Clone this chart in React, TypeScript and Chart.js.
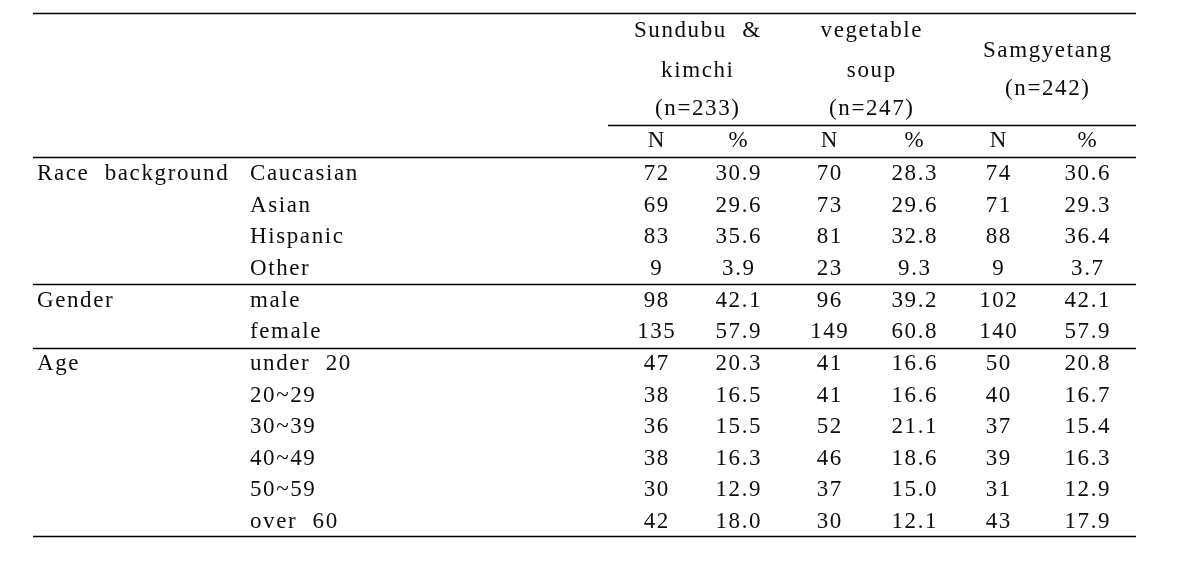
import React, { useEffect, useRef } from "react";
import { Chart, registerables } from "chart.js";

Chart.register(...registerables);

// ---- data ----
const groupLabels = ["Race background", "Gender", "Age"];
const groupStartRow = [0, 4, 6];
const categories = [
  "Caucasian", "Asian", "Hispanic", "Other",
  "male", "female",
  "under 20", "20~29", "30~39", "40~49", "50~59", "over 60",
];
const sundubuN = [72, 69, 83, 9, 98, 135, 47, 38, 36, 38, 30, 42];
const sundubuPct = [30.9, 29.6, 35.6, 3.9, 42.1, 57.9, 20.3, 16.5, 15.5, 16.3, 12.9, 18.0];
const vegetableN = [70, 73, 81, 23, 96, 149, 41, 41, 52, 46, 37, 30];
const vegetablePct = [28.3, 29.6, 32.8, 9.3, 39.2, 60.8, 16.6, 16.6, 21.1, 18.6, 15.0, 12.1];
const samgyetangN = [74, 71, 88, 9, 102, 140, 50, 40, 37, 39, 31, 43];
const samgyetangPct = [30.6, 29.3, 36.4, 3.7, 42.1, 57.9, 20.8, 16.7, 15.4, 16.3, 12.9, 17.9];
const menuHeaders = [
  ["Sundubu &", "kimchi", "(n=233)"],
  ["vegetable", "soup", "(n=247)"],
  ["Samgyetang", "(n=242)"],
];
const subHeaders = ["N", "%"];

// ---- layout (table units) ----
const X_MIN = 0;
const X_MAX = 1177;
const ROW_STEP = 31.64;
const FIRST_ROW_PX = 173;
const Y_MIN = -FIRST_ROW_PX / ROW_STEP;
const Y_MAX = Y_MIN + 577 / ROW_STEP;
const TABLE_LEFT = 33;
const TABLE_RIGHT = 1136;
const SUBHEAD_LEFT = 608;
const GROUP_X = 37;
const CAT_X = 250;
const COL_X = [656, 738, 829, 914, 998, 1087];
const MENU_X = [697, 871, 1047];
const HEADER_ROWS3 = [-4.52, -3.26, -2.05];
const HEADER_ROWS2 = [-3.89, -2.69];
const SUBHEAD_ROW = -1.04;
const RULES = [
  { y: -5.06, from: TABLE_LEFT },
  { y: -1.53, from: SUBHEAD_LEFT },
  { y: -0.52, from: TABLE_LEFT },
  { y: 3.51, from: TABLE_LEFT },
  { y: 5.52, from: TABLE_LEFT },
  { y: 11.47, from: TABLE_LEFT },
];
const FONT = '23px "Liberation Serif", "DejaVu Serif", serif';
const INK = "#000000";

export default function App() {
  const ref = useRef<HTMLCanvasElement | null>(null);

  useEffect(() => {
    const canvas = ref.current;
    if (!canvas) return;
    const columns = [sundubuN, sundubuPct, vegetableN, vegetablePct, samgyetangN, samgyetangPct];
    const isPct = [false, true, false, true, false, true];

    const datasets: any[] = columns.map((col, c) => ({
      label: "col" + c,
      data: col.map((v, r) => ({ x: COL_X[c], y: r, text: isPct[c] ? v.toFixed(1) : String(v) })),
      pointRadius: 0,
      align: "center",
    }));
    datasets.push({
      label: "categories",
      data: categories.map((t, r) => ({ x: CAT_X, y: r, text: t })),
      pointRadius: 0,
      align: "left",
    });
    datasets.push({
      label: "groups",
      data: groupLabels.map((t, i) => ({ x: GROUP_X, y: groupStartRow[i], text: t })),
      pointRadius: 0,
      align: "left",
    });
    const headerPts: any[] = [];
    menuHeaders.forEach((lines, g) => {
      const rows = lines.length === 3 ? HEADER_ROWS3 : HEADER_ROWS2;
      lines.forEach((t, i) => headerPts.push({ x: MENU_X[g], y: rows[i], text: t }));
    });
    COL_X.forEach((x, c) => headerPts.push({ x, y: SUBHEAD_ROW, text: subHeaders[c % 2] }));
    datasets.push({ label: "headers", data: headerPts, pointRadius: 0, align: "center" });

    const tablePlugin = {
      id: "tableText",
      afterDatasetsDraw(chart: any) {
        const ctx = chart.ctx as CanvasRenderingContext2D;
        const xs = chart.scales.x;
        const ys = chart.scales.y;
        ctx.save();
        ctx.strokeStyle = INK;
        ctx.lineWidth = 1.4;
        RULES.forEach((r) => {
          const y = Math.round(ys.getPixelForValue(r.y)) + 0.5;
          ctx.beginPath();
          ctx.moveTo(xs.getPixelForValue(r.from), y);
          ctx.lineTo(xs.getPixelForValue(TABLE_RIGHT), y);
          ctx.stroke();
        });
        ctx.fillStyle = "#0d0d0d";
        ctx.font = FONT;
        (ctx as any).letterSpacing = "1.6px";
        (ctx as any).wordSpacing = "8px";
        ctx.textBaseline = "middle";
        chart.data.datasets.forEach((ds: any, di: number) => {
          const meta = chart.getDatasetMeta(di);
          ctx.textAlign = ds.align;
          meta.data.forEach((el: any, i: number) => {
            const t = ds.data[i].text;
            const shift = ds.align === "center" ? 0.8 : 0;
            ctx.fillText(t, el.x + shift, el.y + 1);
          });
        });
        ctx.restore();
      },
    };

    const chart = new Chart(canvas, {
      type: "scatter",
      data: { datasets },
      options: {
        animation: false,
        responsive: false,
        maintainAspectRatio: false,
        layout: { padding: 0 },
        plugins: { legend: { display: false }, tooltip: { enabled: false } },
        scales: {
          x: { type: "linear", min: X_MIN, max: X_MAX, display: false },
          y: { type: "linear", min: Y_MIN, max: Y_MAX, reverse: true, display: false },
        },
      },
      plugins: [tablePlugin],
    });
    return () => chart.destroy();
  }, []);

  return (
    <div style={{ position: "absolute", left: 0, top: 0, width: 1177, height: 577, background: "#ffffff" }}>
      <canvas ref={ref} width={1177} height={577} style={{ display: "block" }} />
    </div>
  );
}
